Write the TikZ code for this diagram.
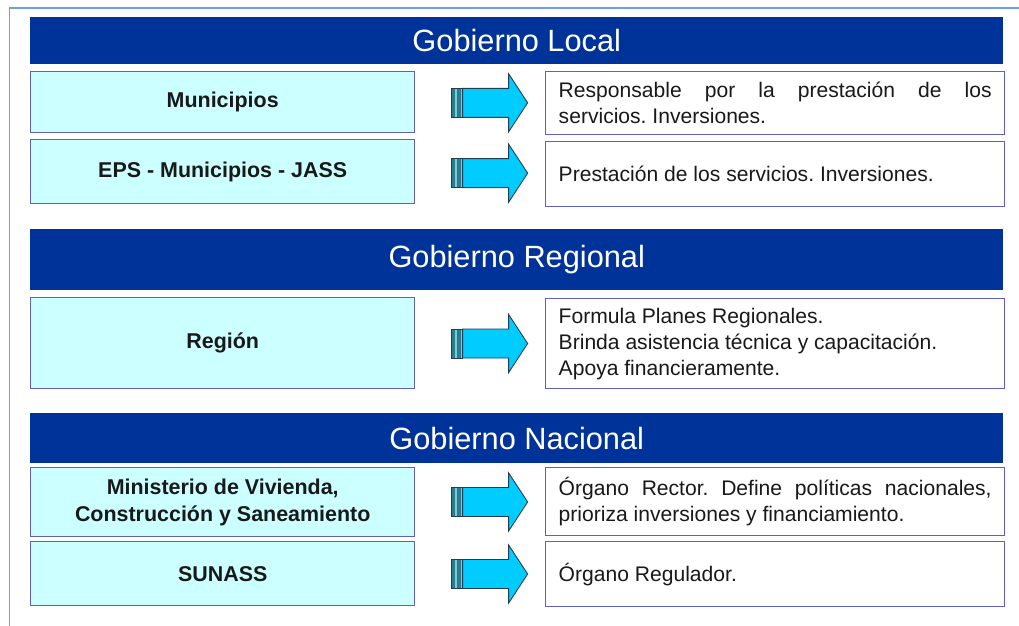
\documentclass[tikz,border=0pt]{standalone}
\usepackage{fontspec}
\setmainfont{Liberation Sans}
\usetikzlibrary{calc}
\frenchspacing

\definecolor{headblue}{RGB}{0,51,153}
\definecolor{boxcyan}{RGB}{204,255,255}
\definecolor{boxline}{RGB}{95,95,190}
\definecolor{frameblue}{RGB}{110,160,230}
\definecolor{arrowcyan}{RGB}{0,204,255}
\definecolor{arrowteal}{RGB}{40,125,145}
\definecolor{stripelight}{RGB}{130,200,210}
\definecolor{arrowedge}{RGB}{35,60,80}

\tikzset{
  header/.style={anchor=north west, fill=headblue, text=white, inner sep=0,
    minimum width=19.46cm, font=\fontsize{17.5}{21}\selectfont},
  leftbox/.style={anchor=north west, fill=boxcyan, draw=boxline, line width=0.85pt,
    minimum width=7.68cm, inner sep=0, align=center, text=black!90,
    font=\bfseries\fontsize{12.2}{15.3}\selectfont},
  rightbox/.style={anchor=north west, fill=white, draw=boxline, line width=0.85pt,
    minimum width=9.18cm, text width=8.66cm, inner xsep=0.26cm, inner ysep=0,
    align=justify, text=black!90, font=\fontsize{12}{14.7}\selectfont},
  rowarrow/.pic={
    \fill[arrowteal] (-38,-14.5) rectangle (-27,14.5);
    \fill[stripelight] (-35,-14.5) rectangle (-33,14.5);
    \fill[stripelight] (-29,-14.5) rectangle (-27,14.5);
    \draw[arrowedge, line width=0.5pt] (-38,-14.5) rectangle (-27,14.5);
    \draw[arrowedge, line width=0.5pt, fill=arrowcyan]
      (-27,-14.5) -- (19,-14.5) -- (19,-29) -- (38,0) -- (19,29) -- (19,14.5) -- (-27,14.5) -- cycle;
  }
}

\begin{document}
\begin{tikzpicture}[x=0.02cm, y=-0.02cm]
  \useasboundingbox (0,0) rectangle (1019,626);
  % outer frame
  \draw[frameblue, line width=0.04cm] (1019,8) -- (9.5,8) -- (9.5,626);

  % gobierno local
  \node[header, minimum height=0.94cm] (h1) at (30,17) {Gobierno Local};
  \node[leftbox, minimum height=1.22cm] (l1) at (30,71) {Municipios};
  \node[rightbox, minimum height=1.26cm] (r1) at (545,71)
    {Responsable por la prestación de los\linebreak servicios. Inversiones.};
  \node[leftbox, minimum height=1.28cm] (l2) at (30,139) {EPS - Municipios - JASS};
  \node[rightbox, minimum height=1.3cm] (r2) at (545,141)
    {Prestación de los servicios. Inversiones.};

  % gobierno regional
  \node[header, minimum height=1.22cm] (h2) at (30,229) {Gobierno Regional};
  \node[leftbox, minimum height=1.82cm] (l3) at (30,297) {Región};
  \node[rightbox, minimum height=1.8cm] (r3) at (545,298)
    {Formula Planes Regionales.\\ Brinda asistencia técnica y capacitación.\\ Apoya financieramente.};

  % gobierno nacional
  \node[header, minimum height=1cm] (h3) at (30,413) {Gobierno Nacional};
  \node[leftbox, minimum height=1.38cm] (l4) at (30,467)
    {Ministerio de Vivienda,\\ Construcción y Saneamiento};
  \node[rightbox, minimum height=1.36cm] (r4) at (545,467)
    {Órgano Rector. Define políticas nacionales,\linebreak prioriza inversiones y financiamiento.};
  \node[leftbox, minimum height=1.28cm] (l5) at (30,541) {SUNASS};
  \node[rightbox, minimum height=1.3cm] (r5) at (545,541) {Órgano Regulador.};

  % arrows between the rows
  \foreach \row in {1,...,5}
    \pic at ($(l\row.east)!0.573!(r\row.west)$) {rowarrow};
\end{tikzpicture}
\end{document}
